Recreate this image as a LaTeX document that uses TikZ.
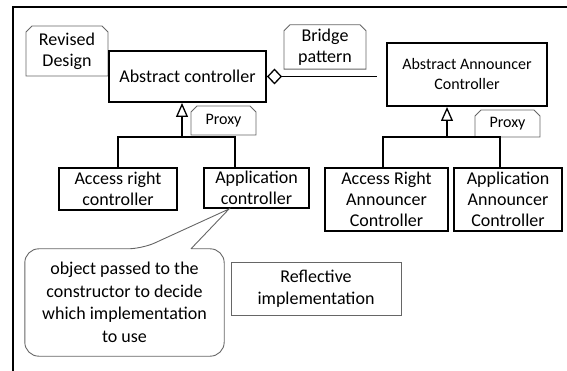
\documentclass[tikz,border=0pt]{standalone}
\usepackage{fontspec}
\setmainfont{Carlito}
\usetikzlibrary{arrows.meta, shapes.misc}

\tikzset{
  cls/.style={draw, line width=2pt, fill=white, align=center, inner sep=2pt,
    font=\fontsize{18}{21}\selectfont},
  tab/.style={chamfered rectangle, chamfered rectangle corners={north west,north east},
    chamfered rectangle sep=3pt, draw=black!60, line width=0.9pt, fill=white,
    align=center, inner sep=1pt, font=\fontsize{18}{21}\selectfont},
  plainbox/.style={draw=black!60, line width=0.9pt, align=center,
    font=\fontsize{18}{22.5}\selectfont},
  link/.style={line width=1.3pt},
  inherit/.style={link, -{Triangle[open,length=14pt,width=12pt]}},
}

\begin{document}
\begin{tikzpicture}[x=1pt, y=-1pt]
\useasboundingbox (0,0) rectangle (567,371);
\draw[line width=2pt] (13,371) |- (567,7);

% tabs
\node[tab, minimum width=82pt, minimum height=50pt] (revised) at (67,51) {Revised\\Design};
\node[tab, minimum width=82pt, minimum height=43pt] (bridge) at (325,47) {Bridge\\pattern};
\node[tab, minimum width=65pt, minimum height=29pt, font=\fontsize{16}{19}\selectfont] (proxya) at (223.5,120.5) {Proxy};
\node[tab, minimum width=65pt, minimum height=27pt, font=\fontsize{16}{19}\selectfont] (proxyb) at (507.5,123.5) {Proxy};

% classes
\node[cls, minimum width=157pt, minimum height=51pt] (abs) at (187.5,76.5) {Abstract controller};
\node[cls, minimum width=160pt, minimum height=63pt, font=\fontsize{16}{20}\selectfont] (ann) at (467,74.5) {Abstract Announcer\\Controller};
\node[cls, minimum width=118pt, minimum height=42pt] (acc) at (118,189) {Access right\\controller};
\node[cls, minimum width=105pt, minimum height=40pt] (app) at (256.5,188) {Application\\controller};
\node[cls, minimum width=123pt, minimum height=63pt] (accann) at (386.5,199.5) {Access Right\\Announcer\\Controller};
\node[cls, minimum width=108pt, minimum height=63pt] (appann) at (508,199.5) {Application\\Announcer\\Controller};

\node[plainbox, minimum width=170pt, minimum height=53pt] (refl) at (316,288.5) {Reflective\\implementation};
\node[align=center, font=\fontsize{18}{22.5}\selectfont, minimum width=199pt, minimum height=107pt] (note) at (124.5,302.5)
  {object passed to the\\constructor to decide\\which implementation\\to use};

% bridge
\draw[link, {Diamond[open,length=15pt,width=16pt]}-, shorten >=9pt] (abs.east) -- (abs.east -| ann.west);

% left hierarchy
\coordinate (ja) at (182,137);
\draw[inherit] (ja) -- (ja |- abs.south);
\draw[link] (acc.north) |- (ja) -| ([xshift=-21.5pt]app.north);

% right hierarchy
\coordinate (jb) at (447,137);
\draw[inherit] (jb) -- (jb |- ann.south);
\draw[link] ([xshift=-3.5pt]accann.north) |- (jb) -| ([xshift=-8pt]appann.north);

% callout outline
\draw[draw=black!60, line width=0.9pt] ([xshift=66.5pt]note.north) [rounded corners=14pt]
  -- (note.north east) -- (note.south east) -- (note.south west) -- (note.north west)
  -- ([xshift=17.5pt]note.north) [sharp corners] -- ([xshift=-27.5pt]app.south) -- ([xshift=66.5pt]note.north);
\end{tikzpicture}
\end{document}
